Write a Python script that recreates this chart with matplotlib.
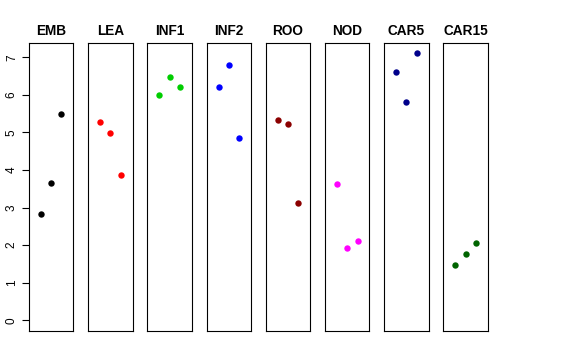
import matplotlib
matplotlib.use("Agg")
import matplotlib.pyplot as plt

plt.rcParams['font.family'] = ['Liberation Sans', 'DejaVu Sans']

# panel names and colours
groups = ["EMB", "LEA", "INF1", "INF2", "ROO", "NOD", "CAR5", "CAR15"]
colors = ["black", "red", "#00CD00", "blue", "#8B0000", "magenta", "#00008B", "#006400"]

# three values per panel
emb = [2.83, 3.66, 5.48]
lea = [5.28, 4.99, 3.87]
inf1 = [6.00, 6.48, 6.22]
inf2 = [6.22, 6.80, 4.85]
roo = [5.33, 5.22, 3.12]
nod = [3.64, 1.93, 2.11]
car5 = [6.61, 5.81, 7.10]
car15 = [1.47, 1.76, 2.06]
values = [emb, lea, inf1, inf2, roo, nod, car5, car15]

positions = [1, 2, 3]
yticks = [0, 1, 2, 3, 4, 5, 6, 7]

fig, axes = plt.subplots(1, len(groups), figsize=(5.76, 3.6), dpi=100, sharey=True)
fig.subplots_adjust(left=0.0503, right=0.847, top=0.8797, bottom=0.0806, wspace=0.333)

for ax, name, vals, col in zip(axes, groups, values, colors):
    ax.plot(positions, vals, linestyle='none', marker='o', markersize=4.6,
            color=col, markeredgewidth=0)
    ax.set_xlim(-0.16, 4.16)
    ax.set_ylim(-0.28, 7.37)
    ax.set_xticks([])
    ax.set_title(name, fontsize=9.8, fontweight='bold', pad=6)
    for sp in ax.spines.values():
        sp.set_linewidth(0.8)
    ax.tick_params(axis='y', left=False, labelleft=False)

axes[0].set_yticks(yticks)
axes[0].tick_params(axis='y', left=True, labelleft=True, length=5, width=0.8,
                    labelsize=8.5, pad=3, labelrotation=90)
for lab in axes[0].get_yticklabels():
    lab.set_va('center')

fig.savefig("out.png", dpi=100)
